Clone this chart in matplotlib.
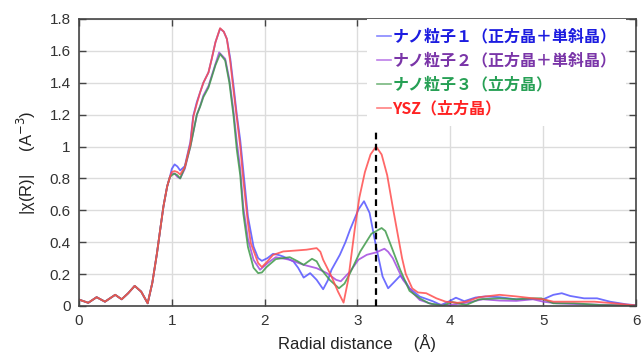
import matplotlib
matplotlib.use("Agg")
import matplotlib.pyplot as plt
from matplotlib.lines import Line2D

# ---- values ----
# common low-R part (all four curves overlap)
r_low = [0.0, 0.1, 0.19, 0.28, 0.39, 0.46, 0.53, 0.60, 0.67, 0.74, 0.79, 0.84, 0.88, 0.91, 0.95, 0.98]
v_low = [0.04, 0.02, 0.055, 0.027, 0.07, 0.042, 0.08, 0.126, 0.09, 0.017, 0.145, 0.33, 0.5, 0.625, 0.75, 0.81]

r_np1 = [1.0, 1.03, 1.06, 1.09, 1.14, 1.2, 1.23, 1.27, 1.305, 1.34, 1.395, 1.43, 1.47, 1.52, 1.56, 1.593, 1.63, 1.665,
         1.70, 1.737, 1.77, 1.82, 1.88, 1.93, 1.97, 2.03, 2.09, 2.15, 2.2, 2.31, 2.36, 2.42, 2.49, 2.56, 2.63, 2.68,
         2.72, 2.81, 2.87, 2.92, 3.01, 3.07, 3.13, 3.2, 3.27, 3.33, 3.4, 3.46, 3.52, 3.56, 3.67, 3.81, 3.9, 3.99,
         4.06, 4.15, 4.27, 4.38, 4.53, 4.71, 4.89, 5.0, 5.11, 5.2, 5.29, 5.44, 5.58, 5.72, 5.9, 6.0]
v_np1 = [0.86, 0.888, 0.875, 0.85, 0.877, 1.03, 1.19, 1.28, 1.34, 1.40, 1.465, 1.55, 1.654, 1.74, 1.72, 1.675, 1.55, 1.38,
         1.2, 1.04, 0.85, 0.56, 0.373, 0.30, 0.283, 0.30, 0.327, 0.32, 0.31, 0.279, 0.24, 0.178, 0.206, 0.164, 0.105, 0.16,
         0.227, 0.321, 0.40, 0.479, 0.605, 0.657, 0.584, 0.373, 0.185, 0.111, 0.153, 0.19, 0.15, 0.111, 0.059, 0.03, 0.006, 0.03,
         0.052, 0.03, 0.053, 0.06, 0.055, 0.042, 0.044, 0.042, 0.07, 0.08, 0.063, 0.048, 0.048, 0.027, 0.01, 0.005]

r_np2 = [1.0, 1.03, 1.06, 1.09, 1.14, 1.2, 1.27, 1.305, 1.34, 1.395, 1.47, 1.51, 1.575, 1.62, 1.665, 1.70, 1.737, 1.77,
         1.82, 1.88, 1.95, 2.04, 2.12, 2.27, 2.42, 2.56, 2.67, 2.77, 2.82, 2.92, 3.01, 3.1, 3.2, 3.29, 3.33, 3.38, 3.49,
         3.6, 3.67, 3.81, 3.99, 4.17, 4.35, 4.53, 4.71, 4.89, 5.0, 5.14, 5.43, 6.0]
v_np2 = [0.83, 0.83, 0.81, 0.80, 0.86, 1.0, 1.2, 1.255, 1.32, 1.38, 1.518, 1.59, 1.55, 1.42, 1.22, 1.03, 0.86, 0.62,
         0.42, 0.29, 0.227, 0.273, 0.306, 0.29, 0.258, 0.237, 0.206, 0.164, 0.155, 0.216, 0.29, 0.321, 0.336, 0.359, 0.34, 0.3, 0.164,
         0.08, 0.038, 0.01, 0.006, 0.02, 0.042, 0.034, 0.032, 0.042, 0.027, 0.017, 0.01, 0.003]

r_np3 = [1.0, 1.03, 1.06, 1.09, 1.14, 1.2, 1.27, 1.305, 1.34, 1.395, 1.47, 1.52, 1.575, 1.62, 1.665, 1.70, 1.737, 1.77,
         1.82, 1.88, 1.93, 1.97, 2.02, 2.12, 2.27, 2.36, 2.42, 2.51, 2.56, 2.6, 2.7, 2.8, 2.86, 2.92, 3.03, 3.15, 3.26,
         3.3, 3.35, 3.46, 3.56, 3.67, 3.77, 3.92, 4.02, 4.1, 4.17, 4.31, 4.53, 4.71, 4.89, 4.98, 5.11, 5.33, 5.62, 6.0]
v_np3 = [0.82, 0.83, 0.82, 0.80, 0.87, 1.0, 1.2, 1.25, 1.31, 1.37, 1.51, 1.58, 1.54, 1.40, 1.19, 0.98, 0.82, 0.58,
         0.37, 0.24, 0.206, 0.21, 0.244, 0.294, 0.306, 0.279, 0.258, 0.296, 0.28, 0.237, 0.164, 0.111, 0.14, 0.206, 0.342, 0.453, 0.489,
         0.47, 0.395, 0.227, 0.095, 0.048, 0.017, 0.002, 0.025, 0.015, 0.006, 0.042, 0.048, 0.042, 0.048, 0.048, 0.017, 0.017, 0.006, 0.002]

r_ysz = [1.0, 1.03, 1.06, 1.09, 1.14, 1.2, 1.233, 1.27, 1.305, 1.34, 1.395, 1.43, 1.47, 1.52, 1.56, 1.593, 1.63, 1.665,
         1.70, 1.737, 1.77, 1.82, 1.85, 1.93, 1.97, 2.03, 2.09, 2.2, 2.34, 2.45, 2.56, 2.6, 2.63, 2.72, 2.79, 2.85, 2.9,
         2.97, 3.02, 3.08, 3.14, 3.2, 3.26, 3.32, 3.38, 3.43, 3.48, 3.52, 3.59, 3.65, 3.74, 3.85, 3.95, 4.08, 4.17, 4.31,
         4.53, 4.71, 4.89, 5.0, 5.11, 5.33, 5.55, 5.76, 6.0]
v_ysz = [0.84, 0.846, 0.84, 0.825, 0.87, 1.02, 1.19, 1.27, 1.34, 1.40, 1.465, 1.55, 1.654, 1.742, 1.72, 1.675, 1.53, 1.35,
         1.18, 1.0, 0.79, 0.52, 0.395, 0.269, 0.244, 0.28, 0.32, 0.342, 0.348, 0.353, 0.363, 0.34, 0.29, 0.185, 0.09, 0.021, 0.164,
         0.48, 0.68, 0.84, 0.95, 1.0, 0.95, 0.82, 0.62, 0.46, 0.30, 0.2, 0.11, 0.085, 0.08, 0.048, 0.027, 0.02, 0.027, 0.055,
         0.07, 0.06, 0.048, 0.042, 0.027, 0.027, 0.027, 0.017, 0.003]

labels = ["ナノ粒子１（正方晶＋単斜晶）", "ナノ粒子２（正方晶＋単斜晶）", "ナノ粒子３（立方晶）", "YSZ（立方晶）"]
line_colors = ["#5555ff", "#a24ae0", "#3f9a4a", "#ff4d4d"]
text_colors = ["#1c1ce0", "#7a35a8", "#27a055", "#ff2222"]
peak_r = 3.2
peak_top = 1.1

fig = plt.figure(figsize=(6.42, 3.58), dpi=100)
ax = fig.add_axes([0.123, 0.1453, 0.8677, 0.8017])

series = [(r_np1, v_np1), (r_np2, v_np2), (r_np3, v_np3), (r_ysz, v_ysz)]
for (r, v), c in zip(series, line_colors):
    ax.plot(r_low + r, v_low + v, color=c, lw=1.3, alpha=0.85, solid_joinstyle="round")

ax.plot([peak_r, peak_r], [0, peak_top], color="black", ls=(0, (3, 2)), lw=1.6, zorder=5)

ax.set_xlim(0, 6)
ax.set_ylim(0, 1.8)
ax.set_xticks(range(7))
ax.set_yticks([0, 0.2, 0.4, 0.6, 0.8, 1, 1.2, 1.4, 1.6, 1.8])
ax.set_yticklabels(["0", "0.2", "0.4", "0.6", "0.8", "1", "1.2", "1.4", "1.6", "1.8"])
ax.grid(color="#dcdcdc", lw=1.0)
ax.set_axisbelow(True)
ax.tick_params(direction="in", top=True, right=True, length=5, width=1.0, color="#444444",
               labelsize=11, labelcolor="#333333", pad=6)
for lab in ax.get_xticklabels() + ax.get_yticklabels():
    lab.set_family("Liberation Sans")
for sp in ax.spines.values():
    sp.set_color("#444444")
    sp.set_linewidth(1.2)

lab_font = ["Liberation Sans", "Noto Sans CJK JP"]
ax.set_xlabel("Radial distance　 (Å)", fontsize=12, color="#222222", family=lab_font, labelpad=4)
ax.set_ylabel("|χ(R)|     (A$^{-3}$)", fontsize=12, color="#222222", family=lab_font, labelpad=8)

handles = [Line2D([], [], color=c, lw=1.2, alpha=0.7) for c in line_colors]
leg = ax.legend(handles, labels, loc="upper left", bbox_to_anchor=(0.517, 1.0),
                prop={"family": ["Noto Sans CJK JP", "DejaVu Sans"], "weight": "bold", "size": 11.5},
                labelcolor=text_colors, frameon=True, framealpha=1.0, edgecolor="white",
                fancybox=False, handlelength=0.9, handletextpad=0.1, labelspacing=0.5,
                borderpad=0.6, borderaxespad=0.0)
leg.get_frame().set_linewidth(0)

fig.savefig("out.png", dpi=100)
